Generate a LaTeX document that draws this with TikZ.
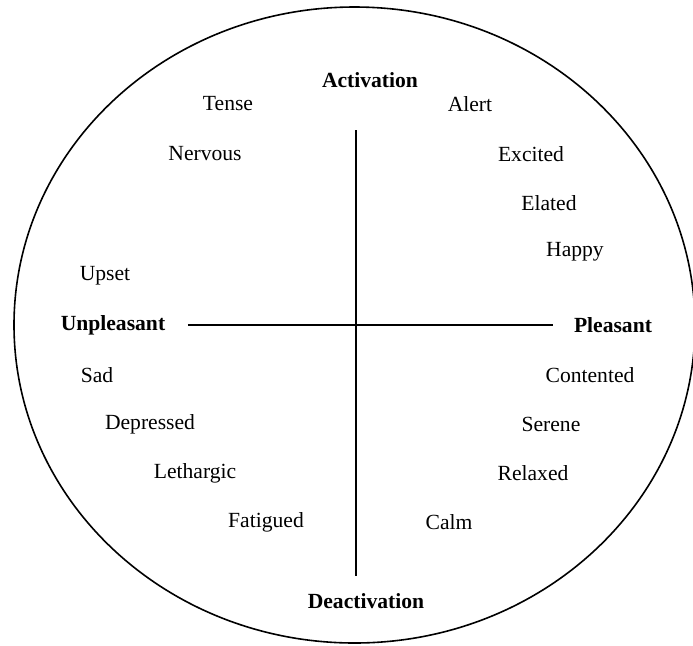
\documentclass[tikz,border=0pt]{standalone}
\usepackage{fontspec}
\setmainfont{Liberation Serif}
\begin{document}
\begin{tikzpicture}[x=0.5pt,y=-0.5pt,
    mood/.style={font=\fontsize{10.8}{13}\selectfont},
    pole/.style={font=\fontsize{10.8}{13}\selectfont\bfseries}]
    \useasboundingbox (0,0) rectangle (693,645);
    \draw [line width=0.8pt] (354.5,325) ellipse [x radius=340.5, y radius=318];
    % axes
    \coordinate (top) at (356,130);
    \coordinate (bottom) at (356,576);
    \coordinate (left) at (188,325);
    \coordinate (right) at (553,325);
    \draw [line width=0.6pt] (top) -- (bottom);
    \draw [line width=0.6pt] (left) -- (right);
    % poles
    \node [pole] (act) at (370,80) {Activation};
    \node [pole] (deact) at (366,601) {Deactivation};
    \node [pole] (unpl) at (113,325) {Unpleasant};
    \node [pole] (pl) at (613,325) {Pleasant};
    % moods
    \node [mood] (tense) at (228,104) {Tense};
    \node [mood] (alert) at (470,104) {Alert};
    \node [mood] (nervous) at (205,154) {Nervous};
    \node [mood] (excited) at (531,154) {Excited};
    \node [mood] (elated) at (549,203) {Elated};
    \node [mood] (happy) at (575,252) {Happy};
    \node [mood] (upset) at (105,276) {Upset};
    \node [mood] (sad) at (97,375) {Sad};
    \node [mood] (contented) at (590,375) {Contented};
    \node [mood] (depressed) at (150,424) {Depressed};
    \node [mood] (serene) at (551,424) {Serene};
    \node [mood] (lethargic) at (195,473) {Lethargic};
    \node [mood] (relaxed) at (533,473) {Relaxed};
    \node [mood] (fatigued) at (266,522) {Fatigued};
    \node [mood] (calm) at (449,522) {Calm};
\end{tikzpicture}
\end{document}
